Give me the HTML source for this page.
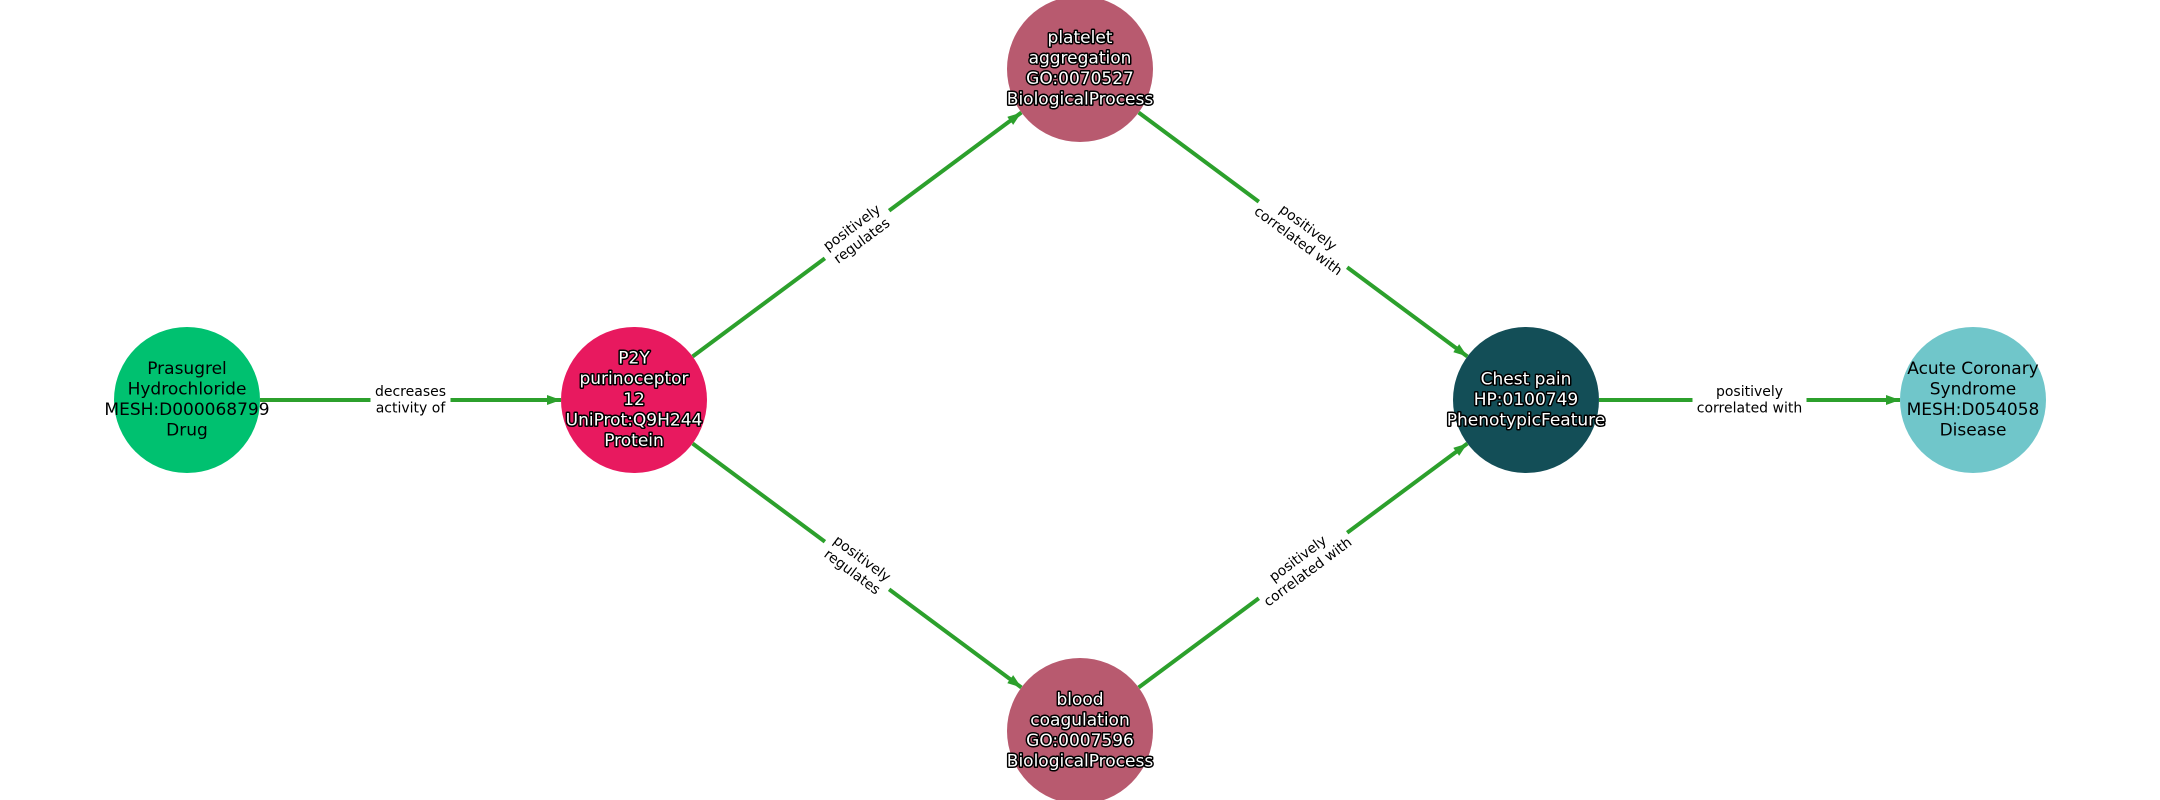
<!DOCTYPE html>
<html><head><meta charset="utf-8"><style>
html,body{margin:0;padding:0;background:#fff;}
svg{display:block;}
.n{font-family:"DejaVu Sans","Liberation Sans",sans-serif;font-size:17px;text-anchor:middle;dominant-baseline:central;}
.w{fill:#fff;stroke:#000;stroke-width:3px;paint-order:stroke;stroke-linejoin:round;}
.b{fill:#000;}
.e{font-family:"DejaVu Sans","Liberation Sans",sans-serif;font-size:14px;text-anchor:middle;dominant-baseline:central;fill:#000;}
</style></head><body>
<svg width="2160" height="800" viewBox="0 0 2160 800" xmlns="http://www.w3.org/2000/svg">
<defs><marker id="a" markerUnits="userSpaceOnUse" markerWidth="16" markerHeight="12" refX="14" refY="5" orient="auto"><path d="M0,0 L14,5 L0,10 z" fill="#2ca02c"/></marker></defs>
<g stroke="#2ca02c" stroke-width="4" fill="none" marker-end="url(#a)">
<line x1="260" y1="400" x2="561" y2="400"/>
<line x1="692.6" y1="356.5" x2="1021.4" y2="112.5"/>
<line x1="692.6" y1="443.5" x2="1021.4" y2="687.5"/>
<line x1="1138.6" y1="112.5" x2="1467.4" y2="356.5"/>
<line x1="1138.6" y1="687.5" x2="1467.4" y2="443.5"/>
<line x1="1599" y1="400" x2="1900" y2="400"/>
</g>
<g transform="translate(410.5,400)"><rect x="-40" y="-20" width="80" height="40" fill="#fff"/><text class="e" y="-8">decreases</text><text class="e" y="8.5">activity of</text></g>
<g transform="translate(857,234.5) rotate(-36.6)"><rect x="-40" y="-20" width="80" height="40" fill="#fff"/><text class="e" y="-8">positively</text><text class="e" y="8.5">regulates</text></g>
<g transform="translate(857,565.5) rotate(36.6)"><rect x="-40" y="-20" width="80" height="40" fill="#fff"/><text class="e" y="-8">positively</text><text class="e" y="8.5">regulates</text></g>
<g transform="translate(1303,234.5) rotate(36.6)"><rect x="-55" y="-20" width="110" height="40" fill="#fff"/><text class="e" y="-8">positively</text><text class="e" y="8.5">correlated with</text></g>
<g transform="translate(1303,565.5) rotate(-36.6)"><rect x="-55" y="-20" width="110" height="40" fill="#fff"/><text class="e" y="-8">positively</text><text class="e" y="8.5">correlated with</text></g>
<g transform="translate(1749.5,400)"><rect x="-57" y="-20" width="114" height="40" fill="#fff"/><text class="e" y="-8">positively</text><text class="e" y="8.5">correlated with</text></g>

<circle cx="187" cy="400" r="73" fill="#00c170"/>
<circle cx="634" cy="400" r="73" fill="#e8195f"/>
<circle cx="1080" cy="69" r="73" fill="#b85a6f"/>
<circle cx="1080" cy="731" r="73" fill="#b85a6f"/>
<circle cx="1526" cy="400" r="73" fill="#134e57"/>
<circle cx="1973" cy="400" r="73" fill="#70c6ca"/>

<g class="n b"><text class="n b" x="187" y="369">Prasugrel</text><text class="n b" x="187" y="389.5">Hydrochloride</text><text class="n b" x="187" y="410">MESH:D000068799</text><text class="n b" x="187" y="430.5">Drug</text></g>
<text class="n w" x="634" y="358.5">P2Y</text><text class="n w" x="634" y="379">purinoceptor</text><text class="n w" x="634" y="400">12</text><text class="n w" x="634" y="420.5">UniProt:Q9H244</text><text class="n w" x="634" y="441">Protein</text>
<text class="n w" x="1080" y="38">platelet</text><text class="n w" x="1080" y="58.5">aggregation</text><text class="n w" x="1080" y="79">GO:0070527</text><text class="n w" x="1080" y="99.5">BiologicalProcess</text>
<text class="n w" x="1080" y="700">blood</text><text class="n w" x="1080" y="720.5">coagulation</text><text class="n w" x="1080" y="741">GO:0007596</text><text class="n w" x="1080" y="761.5">BiologicalProcess</text>
<text class="n w" x="1526" y="379.5">Chest pain</text><text class="n w" x="1526" y="400">HP:0100749</text><text class="n w" x="1526" y="420.5">PhenotypicFeature</text>
<text class="n b" x="1973" y="369">Acute Coronary</text><text class="n b" x="1973" y="389.5">Syndrome</text><text class="n b" x="1973" y="410">MESH:D054058</text><text class="n b" x="1973" y="430.5">Disease</text>
</svg>
</body></html>
